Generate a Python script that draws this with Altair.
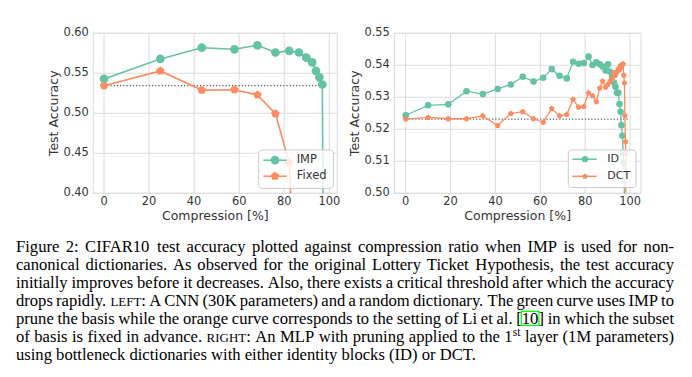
import re
import altair as alt
import pandas as pd

GREEN = "#66c2a5"
ORANGE = "#fc8d62"
TEXT = "#333333"
GRID = "#dcdcdc"
SANS = "DejaVu Sans"

# ---------------- data: left panel (CNN, random dictionary) ----------------
cnn_compression = [0, 25, 43.4, 57.9, 68.1, 76.1, 82.2, 86.5, 89.8, 92.4, 94.1, 95.6, 96.9, 97.2]
imp_accuracy = [0.543, 0.568, 0.582, 0.580, 0.585, 0.576, 0.578, 0.576, 0.5695, 0.5637, 0.553, 0.545, 0.536, 0.30]
fixed_compression = [0, 25, 43.4, 57.9, 68.1, 76.1, 82.2, 82.8]
fixed_accuracy = [0.5345, 0.553, 0.529, 0.5295, 0.523, 0.4995, 0.438, 0.30]
cnn_dense_accuracy = 0.5345
cnn_dense_span = [0, 97.5]
left_names = ["IMP", "Fixed"]
left_xticks = [0, 20, 40, 60, 80, 100]
left_yticks = [0.40, 0.45, 0.50, 0.55, 0.60]

# ---------------- data: right panel (MLP, bottleneck dictionaries) ----------------
id_compression = [0, 10, 19, 27.1, 34.4, 41, 46.9, 52.2, 57, 61.3, 65.1, 68.6, 71.8, 74.6,
                  77.1, 79.4, 81.5, 83.3, 85, 86.5, 87.8, 89.1, 90.2, 91.1, 92.0, 92.8,
                  93.5, 94.2, 94.8, 95.3, 95.8, 96.2, 96.6, 96.9, 97.2, 97.5]
id_accuracy = [0.5244, 0.5275, 0.5278, 0.5319, 0.5310, 0.5326, 0.5340, 0.5364, 0.5349, 0.5361,
               0.5388, 0.5367, 0.5359, 0.5411, 0.5405, 0.5407, 0.5427, 0.5401, 0.5409, 0.5403,
               0.5396, 0.5384, 0.5403, 0.5380, 0.5365, 0.5346, 0.5333, 0.5314, 0.5314, 0.5279,
               0.5255, 0.5213, 0.5180, 0.5125, 0.5095, 0.49]
dct_compression = [0, 10, 19, 27.1, 34.4, 41, 46.9, 52.2, 57, 61.3, 65.1, 68.6, 71.8, 74.6,
                   77.1, 79.4, 81.5, 83.3, 85, 86.5, 87.8, 89.1, 90.2, 91.1, 92.0, 92.8,
                   93.5, 94.2, 94.8, 95.3, 95.8, 96.2, 96.6, 96.9, 97.2, 97.5, 97.7, 98.0,
                   98.1, 98.2]
dct_accuracy = [0.5232, 0.5237, 0.5233, 0.5233, 0.5242, 0.5212, 0.5249, 0.5255, 0.5233, 0.5222,
                0.5265, 0.5242, 0.5246, 0.5293, 0.5269, 0.5271, 0.5314, 0.5305, 0.5286, 0.5329,
                0.5350, 0.5331, 0.5340, 0.5351, 0.5358, 0.5377, 0.5369, 0.5380, 0.5389, 0.5385,
                0.5399, 0.5395, 0.5403, 0.5404, 0.5369, 0.5345, 0.5243, 0.5161, 0.5125, 0.49]
mlp_dense_accuracy = 0.5232
mlp_dense_span = [0, 99.2]
right_names = ["ID", "DCT"]
right_xticks = [0, 20, 40, 60, 80, 100]
right_yticks = [0.50, 0.51, 0.52, 0.53, 0.54, 0.55]

x_title = "Compression [%]"
y_title = "Test Accuracy"

# ---------------- caption ----------------
caption_lines = [
    "Figure 2: CIFAR10 test accuracy plotted against compression ratio when IMP is used for non-",
    "canonical dictionaries. As observed for the original Lottery Ticket Hypothesis, the test accuracy",
    "initially improves before it decreases. Also, there exists a critical threshold after which the accuracy",
    "drops rapidly. {sc:LEFT}: A CNN (30K parameters) and a random dictionary. The green curve uses IMP to",
    "prune the basis while the orange curve corresponds to the setting of Li et al. [{box:10}] in which the subset",
    "of basis is fixed in advance. {sc:RIGHT}: An MLP with pruning applied to the 1{sup:st} layer (1M parameters)",
    "using bottleneck dictionaries with either identity blocks (ID) or DCT.",
]

W = 692
H = 377
TICK_FS = 11.4
TITLE_FS = 12.5

PENT = "M0,-1L0.951,-0.309L0.588,0.809L-0.588,0.809L-0.951,-0.309Z"


def panel(series, names, baseline, span, xdom, xrng, ydom, yrng, xticks, yticks,
          shapes, sizes, stroke_w):
    xs = alt.Scale(domain=xdom, range=xrng, nice=False, zero=False)
    ys = alt.Scale(domain=ydom, range=yrng, nice=False, zero=False, clamp=True)
    X = lambda f: alt.X(f, scale=xs, axis=None)
    Y = lambda f: alt.Y(f, scale=ys, axis=None)
    xdf = pd.DataFrame({"t": xticks, "lo": ydom[0], "hi": ydom[1],
                        "label": [f"{v:d}" for v in xticks]})
    ydf = pd.DataFrame({"t": yticks, "lo": xdom[0], "hi": xdom[1],
                        "label": [f"{v:.2f}" for v in yticks]})
    vgrid = alt.Chart(xdf).mark_rule(color=GRID, strokeWidth=1).encode(
        x=X("t:Q"), y=Y("lo:Q"), y2="hi:Q")
    hgrid = alt.Chart(ydf).mark_rule(color=GRID, strokeWidth=1).encode(
        y=Y("t:Q"), x=X("lo:Q"), x2="hi:Q")
    xlab = alt.Chart(xdf).mark_text(align="center", baseline="middle", dy=8.6, font=SANS,
                                    fontSize=TICK_FS, color=TEXT).encode(
        x=X("t:Q"), y=Y("lo:Q"), text="label:N")
    ylab = alt.Chart(ydf).mark_text(align="right", baseline="middle", dx=-4.5, font=SANS,
                                    fontSize=TICK_FS, color=TEXT).encode(
        x=X("lo:Q"), y=Y("t:Q"), text="label:N")
    frame = alt.Chart(pd.DataFrame({"x0": [xdom[0]], "x1": [xdom[1]],
                                    "y0": [ydom[0]], "y1": [ydom[1]]})).mark_rect(
        fillOpacity=0, stroke=GRID, strokeWidth=1).encode(
        x=X("x0:Q"), x2="x1:Q", y=Y("y0:Q"), y2="y1:Q")
    dotted = alt.Chart(pd.DataFrame({"a": [span[0]], "b": [span[1]], "y": [baseline]})).mark_rule(
        color="#555555", strokeDash=[1.2, 2], strokeWidth=1.3).encode(
        x=X("a:Q"), x2="b:Q", y=Y("y:Q"))
    layers = [vgrid, hgrid, frame, xlab, ylab, dotted]
    cscale = alt.Scale(domain=names, range=[GREEN, ORANGE])
    sscale = alt.Scale(domain=names, range=shapes)
    for i, (name, comp, acc) in enumerate(series):
        df = pd.DataFrame({"comp": comp, "acc": acc, "series": name})
        base = alt.Chart(df)
        line = base.mark_line(strokeWidth=stroke_w).encode(
            x=X("comp:Q"), y=Y("acc:Q"),
            color=alt.Color("series:N", scale=cscale, legend=None))
        pts = base.transform_filter(alt.datum.acc >= ydom[0]).mark_point(
            filled=True, opacity=1, size=sizes[i], strokeWidth=0).encode(
            x=X("comp:Q"), y=Y("acc:Q"),
            color=alt.Color("series:N", scale=cscale, legend=None),
            shape=alt.Shape("series:N", scale=sscale, legend=None))
        layers += [line, pts]
    return alt.layer(*layers)


def legend(names, shapes, sizes, box, line_x, marker_x, text_x, row_y, font_size):
    cscale = alt.Scale(domain=names, range=[GREEN, ORANGE])
    sscale = alt.Scale(domain=names, range=shapes)
    df = pd.DataFrame({"series": names, "cy": row_y, "lx0": line_x[0], "lx1": line_x[1],
                       "mx": marker_x, "tx": text_x, "size": sizes})
    bdf = pd.DataFrame({"x0": [box[0]], "x1": [box[1]], "y0": [box[2]], "y1": [box[3]]})
    frame = alt.Chart(bdf).mark_rect(fill="white", fillOpacity=0.8, stroke="#cccccc",
                                     strokeWidth=1, cornerRadius=3).encode(
        x=alt.X("x0:Q", scale=None, axis=None), x2="x1:Q",
        y=alt.Y("y0:Q", scale=None, axis=None), y2="y1:Q")
    base = alt.Chart(df)
    rules = base.mark_rule(strokeWidth=1.5).encode(
        x=alt.X("lx0:Q", scale=None, axis=None), x2="lx1:Q",
        y=alt.Y("cy:Q", scale=None, axis=None),
        color=alt.Color("series:N", scale=cscale, legend=None))
    marks = base.mark_point(filled=True, opacity=1, strokeWidth=0).encode(
        x=alt.X("mx:Q", scale=None, axis=None),
        y=alt.Y("cy:Q", scale=None, axis=None),
        size=alt.Size("size:Q", scale=None, legend=None),
        color=alt.Color("series:N", scale=cscale, legend=None),
        shape=alt.Shape("series:N", scale=sscale, legend=None))
    labels = base.mark_text(align="left", baseline="middle", font=SANS, fontSize=font_size,
                            color=TEXT).encode(
        x=alt.X("tx:Q", scale=None, axis=None),
        y=alt.Y("cy:Q", scale=None, axis=None),
        text="series:N")
    return alt.layer(frame, rules, marks, labels)


def titles(xrng, yrng, ytitle_x, xtitle_y):
    df = pd.DataFrame({"text": [x_title], "x": [(xrng[0] + xrng[1]) / 2], "y": [xtitle_y]})
    dfy = pd.DataFrame({"text": [y_title], "x": [ytitle_x], "y": [(yrng[0] + yrng[1]) / 2]})
    tx = alt.Chart(df).mark_text(align="center", baseline="middle", font=SANS,
                                 fontSize=TITLE_FS, color=TEXT).encode(
        x=alt.X("x:Q", scale=None, axis=None), y=alt.Y("y:Q", scale=None, axis=None),
        text="text:N")
    ty = alt.Chart(dfy).mark_text(align="center", baseline="middle", font=SANS, angle=270,
                                  fontSize=TITLE_FS, color=TEXT).encode(
        x=alt.X("x:Q", scale=None, axis=None), y=alt.Y("y:Q", scale=None, axis=None),
        text="text:N")
    return alt.layer(tx, ty)


L_XRNG, L_YRNG = [93.3, 337.3], [193.3, 33.3]
R_XRNG, R_YRNG = [394.3, 641.0], [193.3, 33.3]

left = panel(
    [(left_names[0], cnn_compression, imp_accuracy), (left_names[1], fixed_compression, fixed_accuracy)],
    left_names, cnn_dense_accuracy, cnn_dense_span,
    [-4.75, 103.55], L_XRNG, [0.40, 0.60], L_YRNG, left_xticks, left_yticks,
    ["circle", PENT], [76, 80], 1.6)
left_leg = legend(left_names, ["circle", PENT], [76, 80], [258.7, 333.3, 150, 188.3],
                  [263.3, 286.7], 275, 296.7, [160.2, 176.2], 11.5)
left_titles = titles(L_XRNG, L_YRNG, 54.3, 216.0)

right = panel(
    [(right_names[0], id_compression, id_accuracy), (right_names[1], dct_compression, dct_accuracy)],
    right_names, mlp_dense_accuracy, mlp_dense_span,
    [-5.08, 104.9], R_XRNG, [0.50, 0.55], R_YRNG, right_xticks, right_yticks,
    ["circle", PENT], [44, 36], 1.3)
right_leg = legend(right_names, ["circle", PENT], [40, 34], [568.3, 636, 150, 187.5],
                   [572.3, 596.7], 585, 607.3, [159.2, 176.3], 11)
right_titles = titles(R_XRNG, R_YRNG, 355.0, 216.0)

# ---------------- caption layout (Times metrics, justified) ----------------
TW = {" ": 250, "!": 333, "(": 333, ")": 333, ",": 250, "-": 333, ".": 250, ":": 278,
      "[": 333, "]": 333, "%": 833}
for d in "0123456789":
    TW[d] = 500
TW.update(dict(zip("ABCDEFGHIJKLMNOPQRSTUVWXYZ",
                   [722, 667, 667, 722, 611, 556, 722, 722, 333, 389, 722, 611, 889, 722, 722,
                    556, 722, 667, 556, 611, 722, 722, 944, 722, 722, 611])))
TW.update(dict(zip("abcdefghijklmnopqrstuvwxyz",
                   [444, 500, 444, 500, 444, 333, 500, 500, 278, 278, 500, 278, 778, 500, 500,
                    500, 500, 333, 389, 278, 500, 500, 722, 500, 500, 444])))

CAP_FS = 16.6
SC = 0.78
SUP = 0.7
cap_left, cap_right = 16, 674
cap_base0, cap_step = 251.5, 18.1
seg_re = re.compile(r"\{(sc|box|sup):([^}]*)\}")


def tw(s, fs):
    return sum(TW.get(c, 500) for c in s) / 1000.0 * fs


def parse_word(w):
    segs, pos = [], 0
    for m in seg_re.finditer(w):
        if m.start() > pos:
            segs.append(("n", w[pos:m.start()]))
        segs.append((m.group(1), m.group(2)))
        pos = m.end()
    if pos < len(w):
        segs.append(("n", w[pos:]))
    return segs


def seg_fs(kind):
    return CAP_FS * (SC if kind == "sc" else SUP if kind == "sup" else 1.0)


rows, boxes = [], []
for li, line in enumerate(caption_lines):
    base_y = cap_base0 + cap_step * li
    words = [parse_word(w) for w in line.split(" ")]
    widths = [sum(tw(s, seg_fs(k)) for k, s in w) for w in words]
    justify = li < len(caption_lines) - 1
    gap = (cap_right - cap_left - sum(widths)) / (len(words) - 1) if justify else 0.25 * CAP_FS
    x = cap_left
    for wi, w in enumerate(words):
        last = justify and wi == len(words) - 1 and len(w) == 1
        for kind, s in w:
            fs = seg_fs(kind)
            y = base_y - (0.38 * CAP_FS if kind == "sup" else 0)
            if last:
                rows.append({"text": s, "x": cap_right, "y": y, "fs": fs, "anchor": "right"})
            else:
                rows.append({"text": s, "x": x, "y": y, "fs": fs, "anchor": "left"})
            sw = tw(s, fs)
            if kind == "box":
                boxes.append({"x0": x - 0.5, "x1": x + sw + 0.5, "y0": base_y - 12.5, "y1": base_y + 1.5})
            x += sw
        x += gap

cap_df = pd.DataFrame(rows)
cap_enc = dict(x=alt.X("x:Q", scale=None, axis=None), y=alt.Y("y:Q", scale=None, axis=None),
               text="text:N", size=alt.Size("fs:Q", scale=None, legend=None))
cap_l = alt.Chart(cap_df).transform_filter(alt.datum.anchor == "left").mark_text(
    align="left", baseline="alphabetic", font="Liberation Serif", color="black").encode(**cap_enc)
cap_r = alt.Chart(cap_df).transform_filter(alt.datum.anchor == "right").mark_text(
    align="right", baseline="alphabetic", font="Liberation Serif", color="black").encode(**cap_enc)
cap_box = alt.Chart(pd.DataFrame(boxes)).mark_rect(
    fillOpacity=0, stroke="#00ff00", strokeWidth=1.2).encode(
    x=alt.X("x0:Q", scale=None, axis=None), x2="x1:Q",
    y=alt.Y("y0:Q", scale=None, axis=None), y2="y1:Q")

chart = alt.layer(left, right, left_leg, right_leg, left_titles, right_titles,
                  cap_l, cap_r, cap_box).resolve_scale(
    x="independent", y="independent", color="independent", shape="independent",
    size="independent").properties(
    width=W, height=H, autosize=alt.AutoSizeParams(type="none"), padding=0,
    background="white").configure_view(strokeWidth=0)

chart.save("out.html", embed_options={"renderer": "svg", "actions": False})
